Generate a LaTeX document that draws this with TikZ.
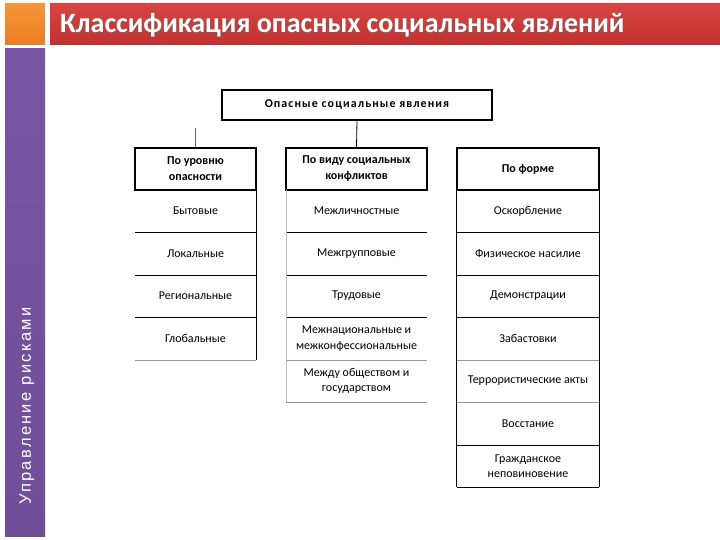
\documentclass[tikz,border=0pt]{standalone}
\usepackage{fontspec}
\setmainfont{Carlito}
\newfontfamily\vertfont{Liberation Sans}
\definecolor{bandred}{RGB}{196,48,48}
\definecolor{bandredtop}{RGB}{214,70,66}
\definecolor{orng}{RGB}{236,124,32}
\definecolor{orngtop}{RGB}{244,150,60}
\definecolor{purp}{RGB}{112,78,152}
\definecolor{purptop}{RGB}{120,84,164}
\definecolor{rowgray}{RGB}{150,150,150}
\begin{document}
\begin{tikzpicture}[x=1pt,y=-1pt,
  hdr/.style={draw, line width=1.6pt, align=center, inner sep=0pt,
    font=\bfseries\fontsize{12}{16}\selectfont},
  cell/.style={inner sep=0pt, align=center, font=\fontsize{12}{15.5}\selectfont},
  rule/.style={line width=0.8pt},
  lightrule/.style={line width=0.8pt, draw=rowgray}]
\useasboundingbox (0,0) rectangle (720,540);
\fill[white] (0,0) rectangle (720,540);
% decorations
\shade[top color=orngtop, bottom color=orng] (5,4) rectangle (45,45);
\shade[top color=bandredtop, bottom color=bandred] (50,4) rectangle (720,45);
\shade[top color=purptop, bottom color=purp] (5,49) rectangle (45,536);
\node[anchor=west, inner sep=0pt, text=black!60, opacity=0.6, font=\bfseries\fontsize{28}{30}\selectfont] (titleshadow) at (61.2,26.8) {Классификация опасных социальных явлений};
\node[anchor=west, inner sep=0pt, text=white, font=\bfseries\fontsize{28}{30}\selectfont] (title) at (60,25.5) {Классификация опасных социальных явлений};
\node[rotate=90, anchor=west, inner sep=0pt, text=white, font=\vertfont\fontsize{16.5}{18}\selectfont] (side) at (27,505) {\addfontfeature{LetterSpace=14}Управление рисками};
% top box
\node[hdr, minimum width=270pt, minimum height=30pt] (top) at (357,105) {\addfontfeature{LetterSpace=9}Опасные социальные явления};
% headers
\node[hdr, minimum width=121pt, minimum height=42pt] (h1) at (195.5,169) {По уровню\\опасности};
\node[hdr, minimum width=141pt, minimum height=42pt] (h2) at (356.5,169) {По виду социальных\\конфликтов};
\node[hdr, minimum width=142pt, minimum height=42pt] (h3) at (528,169) {По форме};
\coordinate (stub) at (195.5,128);
\draw[line width=0.6pt, draw=black!60] (stub) -- (h1.north);
\draw[line width=0.8pt] (top.south) -- (h2.north);
% column 1
\foreach \n/\y/\t in {1/211/Бытовые, 2/253.5/Локальные, 3/296/Региональные, 4/338.5/Глобальные}{
  \node[cell, minimum width=121pt, minimum height=42.5pt] (a\n) at (195.5,\y) {\t};
}
\draw[rule] (a1.south west) -- (a1.south east);
\draw[rule] (a2.south west) -- (a2.south east);
\draw[rule] (a3.south west) -- (a3.south east);
\draw[lightrule] (a4.south west) -- (a4.south east);
\draw[rule] (a1.north east) -- (a4.south east);
% column 2
\node[cell, minimum width=141pt, minimum height=42.5pt] (b1) at (356.5,211) {Межличностные};
\node[cell, minimum width=141pt, minimum height=42.5pt] (b2) at (356.5,253.5) {Межгрупповые};
\node[cell, minimum width=141pt, minimum height=42.5pt] (b3) at (356.5,296) {Трудовые};
\node[cell, minimum width=141pt, minimum height=42.5pt] (b4) at (356.5,338.5) {Межнациональные и\\межконфессиональные};
\node[cell, minimum width=141pt, minimum height=42.5pt] (b5) at (356.5,381) {Между обществом и\\государством};
\draw[rule] (b1.south west) -- (b1.south east);
\draw[rule] (b2.south west) -- (b2.south east);
\draw[rule] (b3.south west) -- (b3.south east);
\draw[lightrule] (b4.south west) -- (b4.south east);
\draw[lightrule] (b5.south west) -- (b5.south east);
\draw[line width=0.5pt, draw=black!25] (b1.north west) -- (b5.south west);
% column 3
\node[cell, minimum width=142pt, minimum height=42.5pt] (c1) at (528,211) {Оскорбление};
\node[cell, minimum width=142pt, minimum height=42.5pt] (c2) at (528,253.5) {Физическое насилие};
\node[cell, minimum width=142pt, minimum height=42.5pt] (c3) at (528,296) {Демонстрации};
\node[cell, minimum width=142pt, minimum height=42.5pt] (c4) at (528,338.5) {Забастовки};
\node[cell, minimum width=142pt, minimum height=42.5pt] (c5) at (528,381) {Террористические акты};
\node[cell, minimum width=142pt, minimum height=42.5pt] (c6) at (528,423.5) {Восстание};
\node[cell, minimum width=142pt, minimum height=42.5pt] (c7) at (528,466) {Гражданское\\неповиновение};
\draw[rule] (c1.south west) -- (c1.south east);
\draw[rule] (c2.south west) -- (c2.south east);
\draw[rule] (c3.south west) -- (c3.south east);
\draw[lightrule] (c4.south west) -- (c4.south east);
\draw[lightrule] (c5.south west) -- (c5.south east);
\draw[rule] (c6.south west) -- (c6.south east);
\draw[rule] (c7.south west) -- (c7.south east);
\draw[rule] (c1.north west) -- (c7.south west);
\draw[rule] (c1.north east) -- (c7.south east);
\end{tikzpicture}
\end{document}
